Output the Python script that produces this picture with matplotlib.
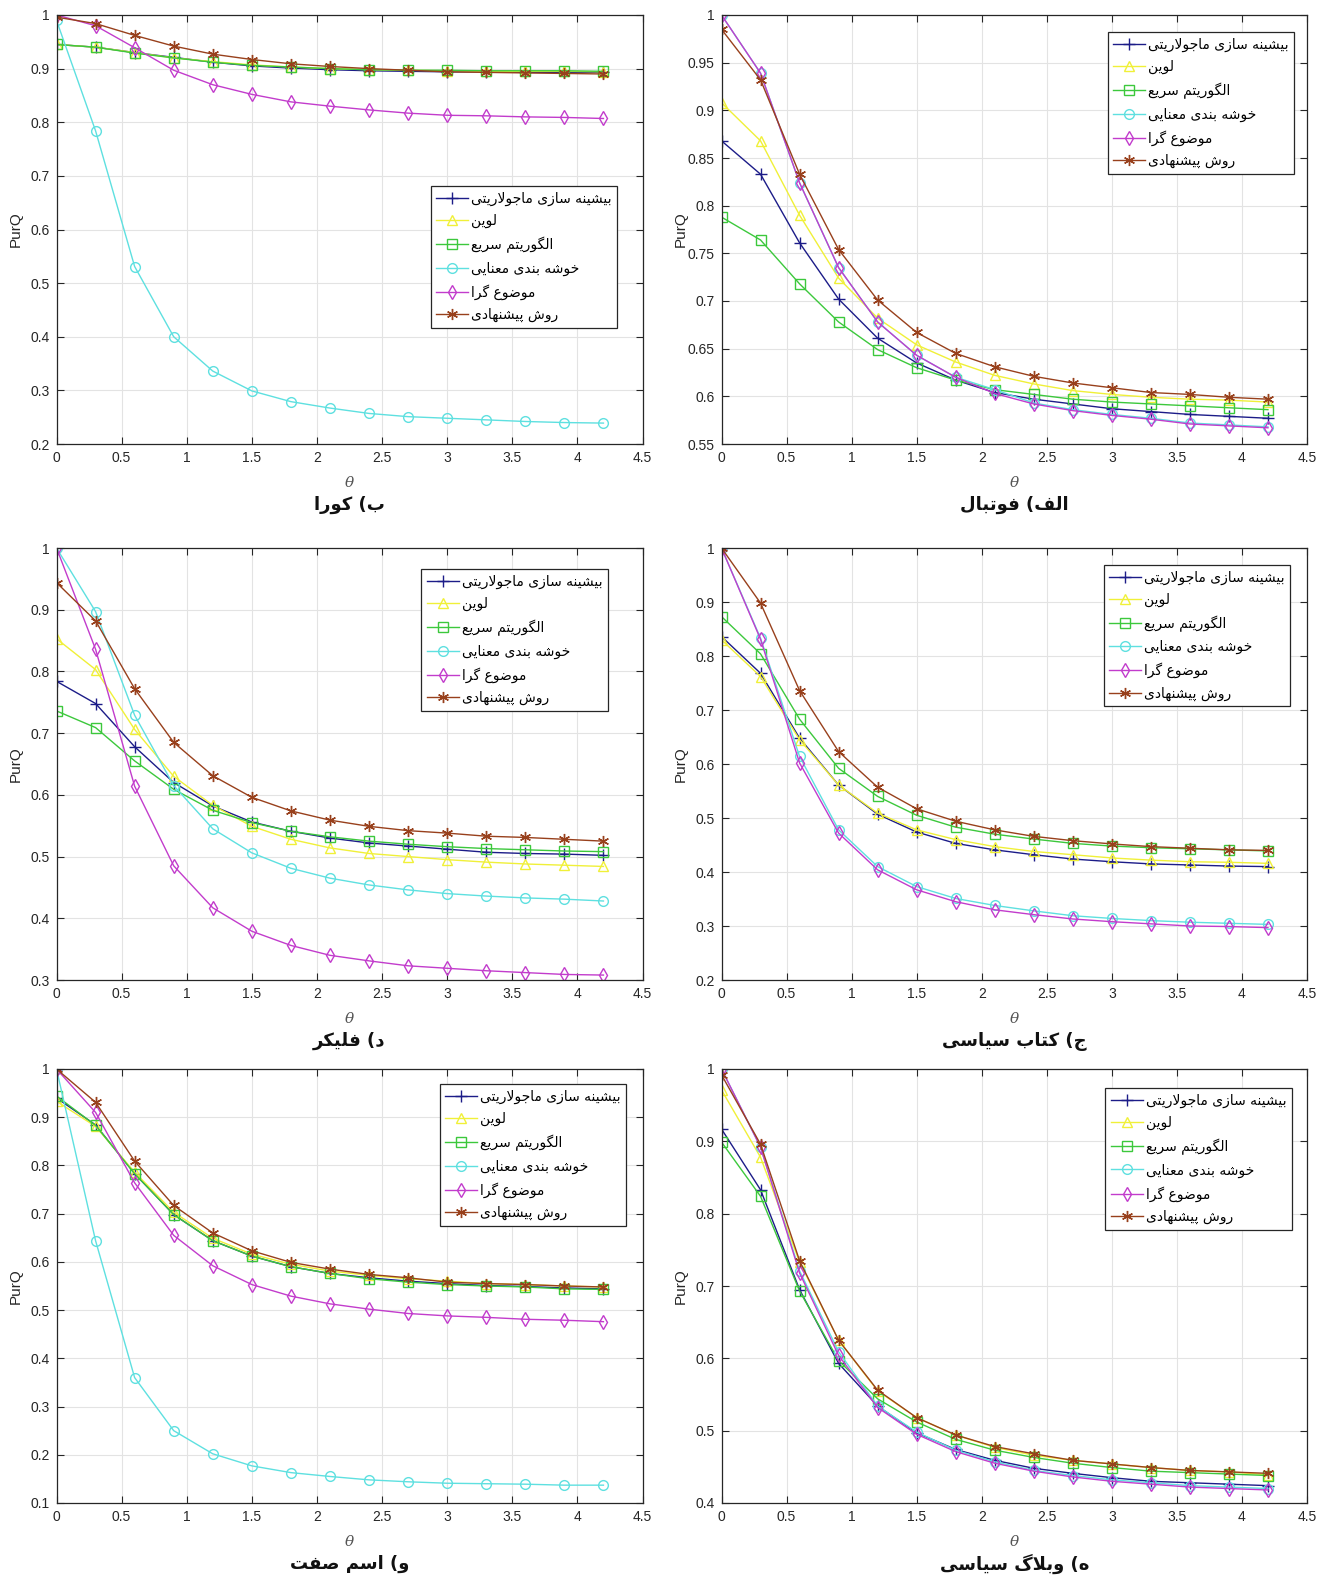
import numpy as np
import matplotlib
matplotlib.use("Agg")
import matplotlib.pyplot as plt
from matplotlib.ticker import FuncFormatter

# theta values on the x axis
theta = [0, 0.3, 0.6, 0.9, 1.2, 1.5, 1.8, 2.1, 2.4, 2.7, 3.0, 3.3, 3.6, 3.9, 4.2]

methods = ["بیشینه سازی ماجولاریتی", "لوین", "الگوریتم سریع",
           "خوشه بندی معنایی", "موضوع گرا", "روش پیشنهادی"]

# order in every dataset: modularity, louvain, fast, semantic, topic, proposed
football = [
    [0.868, 0.833, 0.761, 0.702, 0.661, 0.635, 0.617, 0.604, 0.597, 0.592, 0.587, 0.584, 0.581, 0.579, 0.577],
    [0.908, 0.868, 0.790, 0.724, 0.682, 0.654, 0.636, 0.622, 0.613, 0.606, 0.602, 0.599, 0.597, 0.596, 0.594],
    [0.788, 0.764, 0.718, 0.678, 0.649, 0.630, 0.617, 0.607, 0.602, 0.597, 0.594, 0.592, 0.590, 0.588, 0.586],
    [1.000, 0.939, 0.824, 0.735, 0.678, 0.643, 0.620, 0.607, 0.593, 0.586, 0.581, 0.577, 0.572, 0.570, 0.568],
    [1.000, 0.939, 0.824, 0.735, 0.678, 0.643, 0.620, 0.603, 0.592, 0.585, 0.580, 0.576, 0.571, 0.569, 0.567],
    [0.985, 0.932, 0.833, 0.754, 0.701, 0.667, 0.645, 0.631, 0.621, 0.614, 0.609, 0.604, 0.602, 0.599, 0.597],
]
cora = [
    [0.945, 0.940, 0.930, 0.921, 0.912, 0.905, 0.901, 0.898, 0.896, 0.895, 0.894, 0.894, 0.893, 0.893, 0.893],
    [0.945, 0.940, 0.930, 0.920, 0.913, 0.907, 0.903, 0.900, 0.898, 0.897, 0.896, 0.895, 0.895, 0.895, 0.894],
    [0.945, 0.940, 0.929, 0.920, 0.912, 0.906, 0.903, 0.900, 0.898, 0.897, 0.897, 0.896, 0.896, 0.896, 0.895],
    [0.990, 0.784, 0.531, 0.400, 0.336, 0.299, 0.279, 0.267, 0.257, 0.251, 0.248, 0.245, 0.242, 0.240, 0.239],
    [1.000, 0.980, 0.939, 0.897, 0.870, 0.852, 0.838, 0.830, 0.823, 0.817, 0.813, 0.812, 0.810, 0.809, 0.807],
    [0.996, 0.984, 0.962, 0.942, 0.927, 0.917, 0.909, 0.904, 0.900, 0.897, 0.894, 0.893, 0.892, 0.891, 0.890],
]
polbooks = [
    [0.836, 0.768, 0.648, 0.561, 0.507, 0.474, 0.453, 0.441, 0.432, 0.424, 0.419, 0.415, 0.413, 0.411, 0.410],
    [0.830, 0.762, 0.645, 0.561, 0.509, 0.478, 0.460, 0.447, 0.438, 0.432, 0.426, 0.422, 0.419, 0.418, 0.416],
    [0.873, 0.804, 0.683, 0.592, 0.540, 0.505, 0.483, 0.470, 0.461, 0.453, 0.448, 0.445, 0.443, 0.441, 0.439],
    [1.000, 0.833, 0.614, 0.478, 0.410, 0.373, 0.351, 0.338, 0.328, 0.319, 0.314, 0.310, 0.307, 0.305, 0.303],
    [1.000, 0.831, 0.602, 0.472, 0.404, 0.367, 0.345, 0.330, 0.321, 0.313, 0.308, 0.304, 0.300, 0.299, 0.297],
    [1.000, 0.898, 0.736, 0.623, 0.557, 0.517, 0.494, 0.478, 0.466, 0.458, 0.452, 0.447, 0.444, 0.441, 0.440],
]
flickr = [
    [0.784, 0.748, 0.678, 0.620, 0.582, 0.556, 0.541, 0.530, 0.522, 0.517, 0.512, 0.507, 0.505, 0.504, 0.502],
    [0.853, 0.803, 0.706, 0.630, 0.583, 0.549, 0.528, 0.514, 0.505, 0.500, 0.495, 0.491, 0.488, 0.486, 0.484],
    [0.736, 0.709, 0.655, 0.609, 0.575, 0.555, 0.541, 0.532, 0.525, 0.520, 0.516, 0.513, 0.511, 0.509, 0.508],
    [1.000, 0.897, 0.729, 0.615, 0.545, 0.506, 0.481, 0.465, 0.454, 0.446, 0.440, 0.436, 0.433, 0.431, 0.428],
    [1.000, 0.836, 0.614, 0.485, 0.417, 0.379, 0.356, 0.340, 0.331, 0.323, 0.319, 0.315, 0.312, 0.309, 0.308],
    [0.944, 0.882, 0.772, 0.685, 0.631, 0.596, 0.574, 0.559, 0.549, 0.542, 0.538, 0.533, 0.531, 0.528, 0.525],
]
polblogs = [
    [0.917, 0.833, 0.695, 0.593, 0.534, 0.497, 0.474, 0.459, 0.448, 0.441, 0.435, 0.430, 0.428, 0.426, 0.424],
    [0.971, 0.878, 0.733, 0.625, 0.555, 0.518, 0.494, 0.477, 0.466, 0.459, 0.454, 0.449, 0.445, 0.443, 0.439],
    [0.899, 0.824, 0.693, 0.597, 0.544, 0.512, 0.488, 0.473, 0.463, 0.455, 0.449, 0.444, 0.442, 0.440, 0.438],
    [1.000, 0.892, 0.721, 0.609, 0.534, 0.498, 0.473, 0.457, 0.445, 0.438, 0.432, 0.428, 0.424, 0.422, 0.420],
    [1.000, 0.892, 0.718, 0.604, 0.532, 0.495, 0.471, 0.455, 0.444, 0.436, 0.430, 0.426, 0.422, 0.420, 0.418],
    [0.992, 0.896, 0.735, 0.625, 0.556, 0.518, 0.494, 0.478, 0.468, 0.459, 0.454, 0.449, 0.445, 0.443, 0.441],
]
nounadj = [
    [0.940, 0.884, 0.783, 0.698, 0.644, 0.612, 0.590, 0.576, 0.567, 0.560, 0.555, 0.551, 0.549, 0.546, 0.544],
    [0.933, 0.881, 0.786, 0.703, 0.649, 0.616, 0.595, 0.581, 0.572, 0.565, 0.560, 0.555, 0.553, 0.550, 0.548],
    [0.944, 0.883, 0.783, 0.698, 0.644, 0.612, 0.590, 0.576, 0.565, 0.558, 0.553, 0.550, 0.548, 0.544, 0.543],
    [1.000, 0.644, 0.360, 0.250, 0.202, 0.177, 0.163, 0.155, 0.148, 0.144, 0.141, 0.140, 0.139, 0.137, 0.137],
    [1.000, 0.910, 0.764, 0.655, 0.592, 0.553, 0.529, 0.513, 0.502, 0.493, 0.488, 0.485, 0.481, 0.479, 0.476],
    [1.000, 0.931, 0.809, 0.717, 0.660, 0.623, 0.599, 0.585, 0.574, 0.567, 0.558, 0.555, 0.553, 0.550, 0.548],
]

captions = ["ب) کورا", "الف) فوتبال", "د) فلیکر", "ج) کتاب سیاسی",
            "و) اسم صفت", "ه) وبلاگ سیاسی"]
panels = [cora, football, flickr, polbooks, nounadj, polblogs]
ylims = [(0.2, 1.0, 0.1), (0.55, 1.0, 0.05), (0.3, 1.0, 0.1),
         (0.2, 1.0, 0.1), (0.1, 1.0, 0.1), (0.4, 1.0, 0.1)]
# legend upper-right corner in axes fraction
leg_pos = [(0.957, 0.601), (0.978, 0.960), (0.941, 0.951),
           (0.971, 0.961), (0.972, 0.965), (0.974, 0.956)]

colors = ["#1c1c88", "#f0f038", "#3cc83c", "#5ee0e0", "#c23ccc", "#98401c"]
markers = ["+", "^", "s", "o", "d", (6, 2, 0)]


# --- minimal Persian shaping + RTL ordering (matplotlib does neither) ---
FORMS = {  # isolated, final, initial, medial
    "ب": "\uFE8F\uFE90\uFE91\uFE92", "ت": "\uFE95\uFE96\uFE97\uFE98",
    "ج": "\uFE9D\uFE9E\uFE9F\uFEA0", "خ": "\uFEA5\uFEA6\uFEA7\uFEA8",
    "س": "\uFEB1\uFEB2\uFEB3\uFEB4", "ش": "\uFEB5\uFEB6\uFEB7\uFEB8",
    "ص": "\uFEB9\uFEBA\uFEBB\uFEBC", "ض": "\uFEBD\uFEBE\uFEBF\uFEC0",
    "ع": "\uFEC9\uFECA\uFECB\uFECC", "ف": "\uFED1\uFED2\uFED3\uFED4",
    "ل": "\uFEDD\uFEDE\uFEDF\uFEE0", "م": "\uFEE1\uFEE2\uFEE3\uFEE4",
    "ن": "\uFEE5\uFEE6\uFEE7\uFEE8", "ه": "\uFEE9\uFEEA\uFEEB\uFEEC",
    "ی": "\uFBFC\uFBFD\uFBFE\uFBFF", "ک": "\uFB8E\uFB8F\uFB90\uFB91",
    "گ": "\uFB92\uFB93\uFB94\uFB95", "پ": "\uFB56\uFB57\uFB58\uFB59",
    "ا": "\uFE8D\uFE8E", "د": "\uFEA9\uFEAA", "ر": "\uFEAD\uFEAE",
    "ز": "\uFEAF\uFEB0", "و": "\uFEED\uFEEE",
}
MIRROR = {"(": ")", ")": "("}


def shape_run(run):
    out = []
    i = 0
    prev_joins = False
    while i < len(run):
        c = run[i]
        if c == "ل" and i + 1 < len(run) and run[i + 1] == "ا":
            out.append("\uFEFC" if prev_joins else "\uFEFB")
            prev_joins = False
            i += 2
            continue
        f = FORMS[c]
        dual = len(f) == 4
        nxt = dual and i + 1 < len(run)
        if prev_joins and nxt:
            g = f[3]
        elif prev_joins:
            g = f[1]
        elif nxt:
            g = f[2]
        else:
            g = f[0]
        out.append(g)
        prev_joins = dual
        i += 1
    return "".join(out)


def fa(text):
    res, run = "", ""
    for c in text:
        if c in FORMS:
            run += c
        else:
            res += shape_run(run) + MIRROR.get(c, c)
            run = ""
    res += shape_run(run)
    return res[::-1]


plt.rcParams["font.family"] = ["Liberation Sans", "DejaVu Sans"]

fig = plt.figure(figsize=(13.27, 15.79), dpi=100)
W, H = 1327, 1579
cols = [(56.5, 642.5), (721.5, 1307)]
rows = [(15, 444), (548, 980), (1069, 1503)]
fmt = FuncFormatter(lambda v, p: ("%.2f" % v).rstrip("0").rstrip("."))

for k, data in enumerate(panels):
    r, c = divmod(k, 2)
    x0, x1 = cols[c]
    y0, y1 = rows[r]
    ax = fig.add_axes([x0 / W, 1 - y1 / H, (x1 - x0) / W, (y1 - y0) / H])
    for s, vals in enumerate(data):
        ax.plot(theta, vals, color=colors[s], marker=markers[s], lw=1.0,
                ms=8 if s in (0, 5) else 7, mfc="none", mew=1.0,
                label=fa(methods[s]))
    lo, hi, step = ylims[k]
    ax.set_xlim(0, 4.5)
    ax.set_ylim(lo, hi)
    ax.set_xticks(np.arange(0, 4.51, 0.5))
    ax.set_yticks(np.arange(lo, hi + step / 2, step))
    ax.xaxis.set_major_formatter(fmt)
    ax.yaxis.set_major_formatter(fmt)
    ax.grid(True, color="#e3e3e3", lw=0.8)
    ax.set_axisbelow(True)
    ax.tick_params(direction="in", length=5, width=0.8, top=True, right=True,
                   labelsize=10, colors="#262626", pad=5)
    for sp in ax.spines.values():
        sp.set_color("#262626")
        sp.set_linewidth(0.9)
    ax.set_ylabel("PurQ", fontsize=11, color="#262626")
    ax.yaxis.set_label_coords(-34 / (x1 - x0), 0.5)
    ax.annotate("θ", xy=(0.5, 0), xycoords="axes fraction",
                xytext=(0, -28), textcoords="offset points", ha="center",
                va="center", fontsize=11, color="#555555",
                family="DejaVu Serif", style="italic")
    ax.annotate(fa(captions[k]), xy=(0.5, 0), xycoords="axes fraction",
                xytext=(0, -44), textcoords="offset points", ha="center",
                va="center", fontsize=13, fontweight="bold",
                family="DejaVu Sans", color="#111111")
    leg = ax.legend(loc="upper right", bbox_to_anchor=leg_pos[k],
                    prop={"family": "DejaVu Sans", "size": 10},
                    handlelength=2.3, labelspacing=0.6, borderpad=0.4,
                    handletextpad=0.2, fancybox=False, framealpha=1,
                    edgecolor="#262626", borderaxespad=0)
    leg.get_frame().set_linewidth(0.9)

fig.savefig("out.png", dpi=100, facecolor="white")
